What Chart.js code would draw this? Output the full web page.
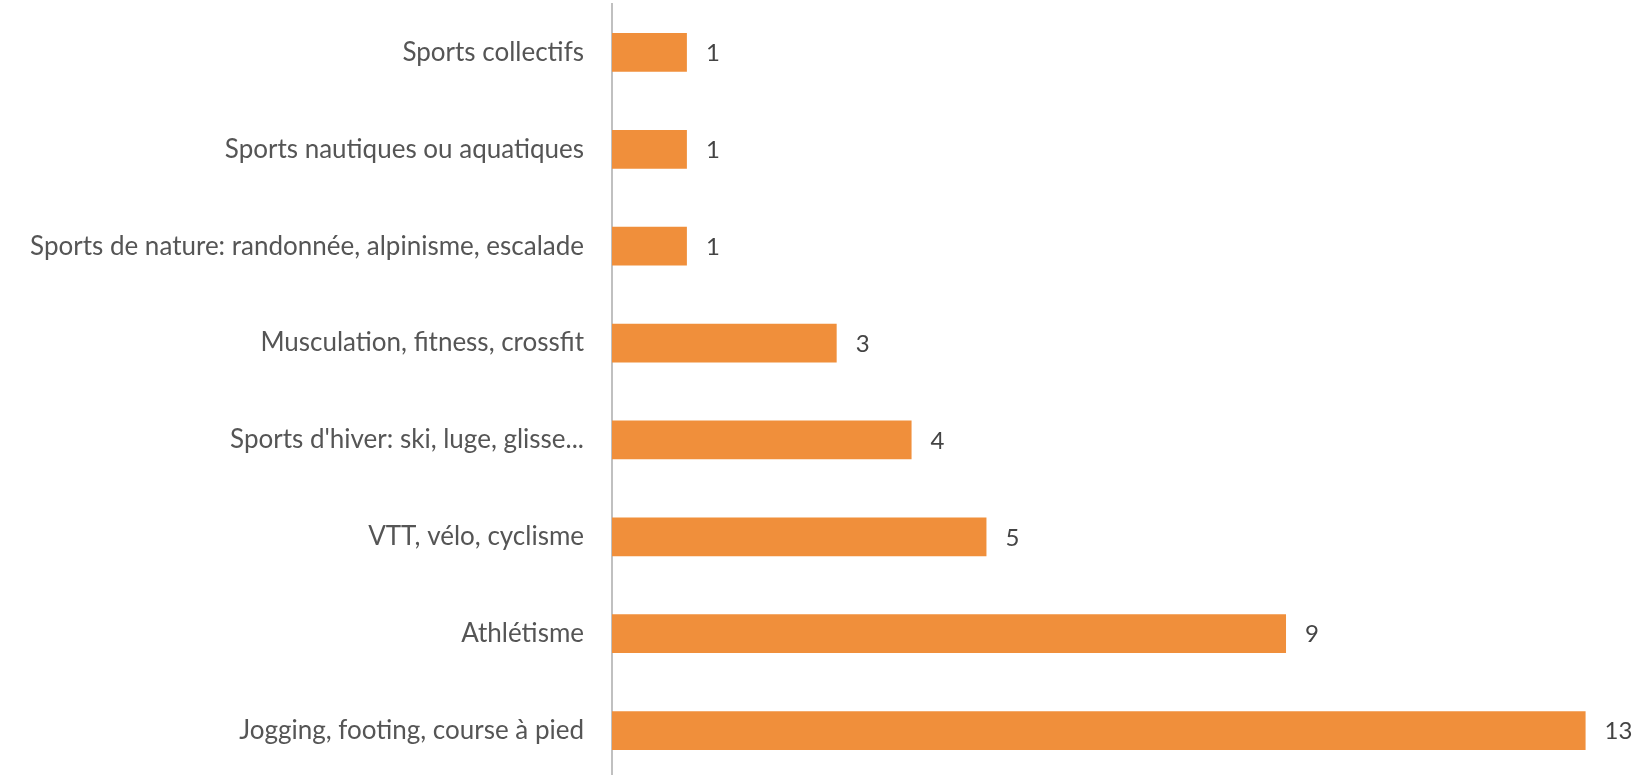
<!DOCTYPE html>
<html>
<head>
<meta charset="utf-8">
<script src="https://cdn.jsdelivr.net/npm/chart.js@4/dist/chart.umd.min.js"></script>
<style>
  html, body { margin: 0; padding: 0; background: #fff; overflow: hidden; }
  #wrap { position: relative; width: 1641px; height: 779px; }
</style>
</head>
<body>
<div id="wrap"><canvas id="sportsChart"></canvas></div>
<script>
const CATEGORIES = [
  "Sports collectifs",
  "Sports nautiques ou aquatiques",
  "Sports de nature: randonnée, alpinisme, escalade",
  "Musculation, fitness, crossfit",
  "Sports d'hiver: ski, luge, glisse...",
  "VTT, vélo, cyclisme",
  "Athlétisme",
  "Jogging, footing, course à pied"
];

const COUNTS = [1, 1, 1, 3, 4, 5, 9, 13];

const BAR_COLOR = "#f08f3b";
const TEXT_COLOR = "#555555";
const FONT = '"Lato", "Open Sans", sans-serif';

// value labels right of each bar
const valueLabels = {
  id: "valueLabels",
  afterDatasetsDraw(chart) {
    const { ctx } = chart;
    const meta = chart.getDatasetMeta(0);
    ctx.save();
    ctx.fillStyle = "#444444";
    ctx.font = `24px ${FONT}`;
    ctx.textAlign = "left";
    ctx.textBaseline = "middle";
    meta.data.forEach((bar, i) => {
      ctx.fillText(String(COUNTS[i]), bar.x + 19, bar.y + 1);
    });
    ctx.restore();
  }
};

new Chart(document.getElementById("sportsChart"), {
  type: "bar",
  data: {
    labels: CATEGORIES,
    datasets: [
      {
        data: COUNTS,
        backgroundColor: BAR_COLOR,
        borderWidth: 0,
        categoryPercentage: 1,
        barPercentage: 0.4
      }
    ]
  },
  options: {
    indexAxis: "y",
    responsive: true,
    maintainAspectRatio: false,
    animation: false,
    layout: { padding: { top: 4, right: 0, bottom: 0, left: 0 } },
    plugins: {
      legend: { display: false },
      tooltip: { enabled: false }
    },
    scales: {
      x: {
        display: false,
        min: 0,
        max: 13.74
      },
      y: {
        afterFit(scale) {
          scale.width = 612;
          scale.paddingTop = 0;
          scale.paddingBottom = 0;
        },
        grid: { display: false, drawTicks: false },
        border: { display: true, color: "#c0c0c0", width: 2 },
        ticks: {
          padding: 28,
          color: TEXT_COLOR,
          font: { family: FONT, size: 26 }
        }
      }
    }
  },
  plugins: [valueLabels]
});
</script>
</body>
</html>
